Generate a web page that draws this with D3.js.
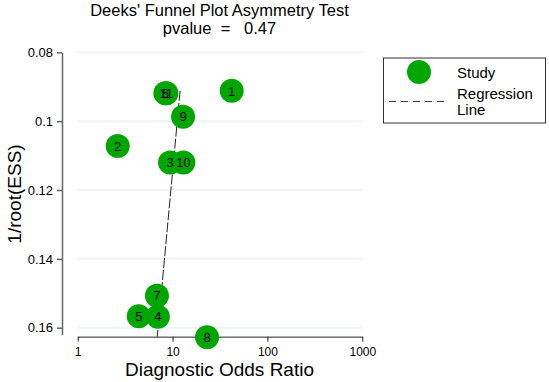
<!DOCTYPE html>
<html>
<head>
<meta charset="utf-8">
<script src="https://cdn.jsdelivr.net/npm/d3@7"></script>
<style>
	body { margin: 0; background: #fff; }
	svg { font-family: "Liberation Sans", Arial, sans-serif; }
	.grid line { stroke: #eef4f8; stroke-width: 2; }
	.xaxis path, .xaxis line { stroke: #222; }
	.yaxis path, .yaxis line { stroke: #666; stroke-width: 1.5; }
	.axis text { fill: #000; }
</style>
</head>
<body>
<script>
//study data
var studyIds = ["1", "2", "3", "4", "5", "6", "7", "8", "9", "10", "11"];
var dorValues = [42.0, 2.64, 9.4, 7.0, 4.4, 8.4, 6.85, 23.1, 12.9, 13.0, 8.6];
var invRootEss = [0.0912, 0.1072, 0.1120, 0.1568, 0.1567, 0.0919, 0.1507, 0.1628, 0.0987, 0.1120, 0.0919];

//regression line end points
var regDor = [12.0, 6.9];
var regInvRootEss = [0.0912, 0.1626];

//tick labels
var xTicks = [1, 10, 100, 1000];
var xTickLabels = ["1", "10", "100", "1000"];
var yTicks = [0.08, 0.1, 0.12, 0.14, 0.16];
var yTickLabels = ["0.08", "0.1", "0.12", "0.14", "0.16"];

var pValue = "0.47";

(function(){
	var width = 549, height = 382;

	var svg = d3.select("body").append("svg")
		.attr("width", width)
		.attr("height", height);

	var x = d3.scaleLog().domain([1, 1000]).range([77.7, 362.3]);
	var y = d3.scaleLinear().domain([0.08, 0.16]).range([52.3, 327.7]);
	var yAxisEnd = 0.162, xAxisAt = 0.1626;

	//horizontal gridlines
	svg.append("g").attr("class", "grid")
		.selectAll("line")
		.data(yTicks)
		.enter().append("line")
		.attr("x1", x(1)).attr("x2", x(1000))
		.attr("y1", function(d){ return y(d); })
		.attr("y2", function(d){ return y(d); });

	//y axis
	var yAxisScale = y.copy().domain([0.08, yAxisEnd]).range([y(0.08), y(yAxisEnd)]);
	svg.append("g")
		.attr("class", "axis yaxis")
		.attr("transform", "translate(62,0)")
		.call(d3.axisLeft(yAxisScale)
			.tickValues(yTicks)
			.tickFormat(function(d, i){ return yTickLabels[i]; })
			.tickSize(5).tickSizeOuter(0).tickPadding(4))
		.selectAll("text").style("font-size", "13px");

	//x axis
	svg.append("g")
		.attr("class", "axis xaxis")
		.attr("transform", "translate(0," + y(xAxisAt) + ")")
		.call(d3.axisBottom(x)
			.tickValues(xTicks)
			.tickFormat(function(d, i){ return xTickLabels[i]; })
			.tickSize(5).tickSizeOuter(0).tickPadding(6))
		.selectAll("text").style("font-size", "12px");

	//regression line
	var regPts = regDor.map(function(d, i){ return [d, regInvRootEss[i]]; });
	svg.append("path")
		.datum(regPts)
		.attr("d", d3.line()
			.x(function(d){ return x(d[0]); })
			.y(function(d){ return y(d[1]); }))
		.attr("fill", "none")
		.attr("stroke", "#222")
		.attr("stroke-width", 1)
		.attr("stroke-dasharray", "10,2");

	//study circles first, then all labels on top
	var studies = studyIds.map(function(id, i){
		return {id: id, dor: dorValues[i], v: invRootEss[i]};
	});
	svg.append("g").selectAll("circle")
		.data(studies)
		.enter().append("circle")
		.attr("cx", function(d){ return x(d.dor); })
		.attr("cy", function(d){ return y(d.v); })
		.attr("r", 12)
		.attr("fill", "#00a600");
	svg.append("g").selectAll("text")
		.data(studies)
		.enter().append("text")
		.attr("x", function(d){ return x(d.dor); })
		.attr("y", function(d){ return y(d.v); })
		.attr("text-anchor", "middle")
		.attr("dy", "0.36em")
		.style("font-size", "13px")
		.text(function(d){ return d.id; });

	//titles
	svg.append("text")
		.attr("x", 219.5).attr("y", 15.5)
		.attr("text-anchor", "middle")
		.style("font-size", "16.5px")
		.text("Deeks' Funnel Plot Asymmetry Test");
	svg.append("text")
		.attr("x", 219.5).attr("y", 34)
		.attr("text-anchor", "middle")
		.style("font-size", "16.5px")
		.style("white-space", "pre")
		.text("pvalue  =   " + pValue);

	svg.append("text")
		.attr("x", 219.5).attr("y", 376)
		.attr("text-anchor", "middle")
		.style("font-size", "19px")
		.text("Diagnostic Odds Ratio");
	svg.append("text")
		.attr("transform", "translate(21,194) rotate(-90)")
		.attr("text-anchor", "middle")
		.style("font-size", "19px")
		.text("1/root(ESS)");

	//legend
	var legend = svg.append("g");
	legend.append("rect")
		.attr("x", 383.5).attr("y", 58)
		.attr("width", 162).attr("height", 65)
		.attr("fill", "#fff")
		.attr("stroke", "#333")
		.attr("stroke-width", 1);
	legend.append("circle")
		.attr("cx", 419).attr("cy", 72).attr("r", 12)
		.attr("fill", "#00a600");
	legend.append("line")
		.attr("x1", 389).attr("x2", 449)
		.attr("y1", 101.5).attr("y2", 101.5)
		.attr("stroke", "#444")
		.attr("stroke-dasharray", "7,5");
	var legText = [["Study", 77.5], ["Regression", 99], ["Line", 114.5]];
	legend.selectAll(".legText")
		.data(legText)
		.enter().append("text")
		.attr("class", "legText")
		.attr("x", 457)
		.attr("y", function(d){ return d[1]; })
		.style("font-size", "15px")
		.text(function(d){ return d[0]; });
})();
</script>
</body>
</html>
